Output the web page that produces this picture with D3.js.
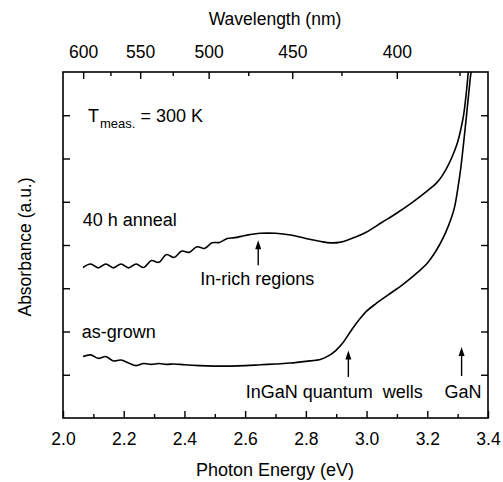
<!DOCTYPE html>
<html>
<head>
<meta charset="utf-8">
<script src="https://cdn.jsdelivr.net/npm/d3@7"></script>
<style>
  html, body { margin: 0; padding: 0; background: #fff; }
  svg { display: block; }
  text { font-family: "Liberation Sans", Arial, Helvetica, sans-serif; fill: #000; }
</style>
</head>
<body>
<svg id="chart" width="503" height="482"></svg>
<script>
// ---- data (photon energy in eV, absorbance in arbitrary units) ----
const anneal = [
  [2.066,3.48],[2.091,3.56],[2.116,3.47],[2.141,3.56],[2.166,3.47],[2.191,3.56],
  [2.216,3.47],[2.241,3.56],[2.266,3.48],[2.291,3.64],[2.316,3.60],[2.341,3.78],
  [2.366,3.71],[2.391,3.86],[2.416,3.83],[2.441,3.96],[2.466,3.92],[2.491,4.05],
  [2.516,4.06],[2.541,4.15],[2.566,4.17],[2.60,4.22],[2.65,4.27],[2.70,4.27],
  [2.75,4.23],[2.80,4.15],[2.85,4.08],[2.88,4.05],[2.91,4.06],[2.94,4.12],
  [2.97,4.20],[3.00,4.30],[3.05,4.52],[3.10,4.74],[3.15,4.98],[3.20,5.25],
  [3.23,5.43],[3.25,5.61],[3.27,5.86],[3.29,6.18],[3.30,6.38],[3.31,6.66],
  [3.32,7.02],[3.33,7.62],[3.335,8.0],[3.34,8.4]
];
const asGrown = [
  [2.066,1.42],[2.091,1.46],[2.116,1.38],[2.141,1.42],[2.166,1.32],[2.191,1.34],
  [2.216,1.27],[2.241,1.21],[2.266,1.26],[2.291,1.24],[2.316,1.26],[2.341,1.24],
  [2.366,1.25],[2.40,1.23],[2.45,1.21],[2.50,1.20],[2.55,1.20],[2.60,1.21],
  [2.65,1.23],[2.70,1.25],[2.75,1.27],[2.80,1.31],[2.85,1.36],[2.88,1.46],
  [2.90,1.57],[2.92,1.72],[2.95,2.03],[2.98,2.31],[3.00,2.47],[3.03,2.64],
  [3.07,2.84],[3.12,3.09],[3.17,3.38],[3.20,3.58],[3.22,3.77],[3.24,4.00],
  [3.26,4.28],[3.28,4.64],[3.29,4.88],[3.30,5.28],[3.31,5.76],[3.32,6.38],
  [3.33,7.05],[3.34,7.75],[3.345,8.05],[3.35,8.35]
];
const energyTicks = [2.0,2.2,2.4,2.6,2.8,3.0,3.2,3.4];
const energyMinor = [2.1,2.3,2.5,2.7,2.9,3.1,3.3];
const wavelengthTicks = [600,550,500,450,400];
const wavelengthMinor = [575,525,475,425,375];
const absTicks = [1,2,3,4,5,6,7];
const HC = 1239.84; // eV*nm

const annotations = [
  {text: "40 h anneal", x: 2.065, y: 4.43},
  {text: "as-grown", x: 2.062, y: 1.85},
  {text: "In-rich regions", x: 2.452, y: 3.07},
  {text: "InGaN quantum\u00a0 wells", x: 2.602, y: 0.455},
  {text: "GaN", x: 3.257, y: 0.455}
];
const arrows = [
  {x: 2.643, y0: 3.53, y1: 4.11},
  {x: 2.940, y0: 0.95, y1: 1.56},
  {x: 3.313, y0: 0.97, y1: 1.64}
];

// ---- layout ----
const svg = d3.select("#chart");
const L = 63, R = 488, T = 72, B = 418;
const x = d3.scaleLinear().domain([2.0, 3.4]).range([L, R]);
const y = d3.scaleLinear().domain([0, 8]).range([B, T]);
const FS = 17.5;

svg.append("defs").append("clipPath").attr("id", "clip")
  .append("rect").attr("x", L).attr("y", T).attr("width", R - L).attr("height", B - T);

// axes
function styleAxis(g) {
  g.select(".domain").remove();
  g.selectAll(".tick line").attr("stroke", "#000").attr("stroke-width", 1.4);
  g.selectAll("text").style("font-size", FS + "px").style("font-family", '"Liberation Sans", Arial, sans-serif');
}
// bottom major
svg.append("g").attr("transform", `translate(0,${B})`)
  .call(d3.axisBottom(x).tickValues(energyTicks).tickFormat(d3.format(".1f")).tickSizeInner(-7).tickSizeOuter(0).tickPadding(15))
  .call(styleAxis);
// bottom minor
svg.append("g").attr("transform", `translate(0,${B})`)
  .call(d3.axisBottom(x).tickValues(energyMinor).tickFormat("").tickSizeInner(-4).tickSizeOuter(0))
  .call(styleAxis);
// top major (wavelength)
svg.append("g").attr("transform", `translate(0,${T})`)
  .call(d3.axisTop(x).tickValues(wavelengthTicks.map(l => HC / l)).tickFormat(e => d3.format(".0f")(HC / e)).tickSizeInner(-7).tickSizeOuter(0).tickPadding(14))
  .call(styleAxis);
svg.append("g").attr("transform", `translate(0,${T})`)
  .call(d3.axisTop(x).tickValues(wavelengthMinor.map(l => HC / l)).tickFormat("").tickSizeInner(-4).tickSizeOuter(0))
  .call(styleAxis);
// left / right
svg.append("g").attr("transform", `translate(${L},0)`)
  .call(d3.axisLeft(y).tickValues(absTicks).tickFormat("").tickSizeInner(-7).tickSizeOuter(0))
  .call(styleAxis);
svg.append("g").attr("transform", `translate(${R},0)`)
  .call(d3.axisRight(y).tickValues(absTicks).tickFormat("").tickSizeInner(-7).tickSizeOuter(0))
  .call(styleAxis);

// frame
svg.append("rect").attr("x", L).attr("y", T).attr("width", R - L).attr("height", B - T)
  .attr("fill", "none").attr("stroke", "#000").attr("stroke-width", 1.6);

// titles
svg.append("text").attr("x", 275).attr("y", 25).attr("text-anchor", "middle")
  .style("font-size", FS + "px").text("Wavelength (nm)");
svg.append("text").attr("x", 275).attr("y", 476).attr("text-anchor", "middle")
  .style("font-size", "18px").text("Photon Energy (eV)");
svg.append("text").attr("transform", "translate(31,247) rotate(-90)").attr("text-anchor", "middle")
  .style("font-size", FS + "px").text("Absorbance (a.u.)");

// curves
const line = d3.line().x(d => x(d[0])).y(d => y(d[1])).curve(d3.curveCatmullRom.alpha(0.5));
const curves = svg.append("g").attr("clip-path", "url(#clip)");
[anneal, asGrown].forEach(s => {
  curves.append("path").datum(s).attr("d", line)
    .attr("fill", "none").attr("stroke", "#000").attr("stroke-width", 1.6)
    .attr("stroke-linejoin", "round");
});

// T_meas label
const tm = svg.append("text").attr("x", 88).attr("y", 121.7).style("font-size", "18px");
tm.append("tspan").text("T");
tm.append("tspan").attr("dy", 6.5).attr("dx", 1).style("font-size", "13px").text("meas.");
tm.append("tspan").attr("dy", -6.5).text(" = 300 K");

// annotations
svg.append("g").selectAll("text").data(annotations).join("text")
  .attr("x", d => x(d.x)).attr("y", d => y(d.y))
  .style("font-size", "18px").text(d => d.text);

// arrows
const ag = svg.append("g");
arrows.forEach(a => {
  const xp = x(a.x), yb = y(a.y0), yt = y(a.y1);
  ag.append("line").attr("x1", xp).attr("x2", xp).attr("y1", yb).attr("y2", yt + 6)
    .attr("stroke", "#000").attr("stroke-width", 1.4);
  ag.append("path").attr("d", `M${xp},${yt} L${xp - 3},${yt + 9} L${xp + 3},${yt + 9} Z`).attr("fill", "#000");
});
</script>
</body>
</html>
